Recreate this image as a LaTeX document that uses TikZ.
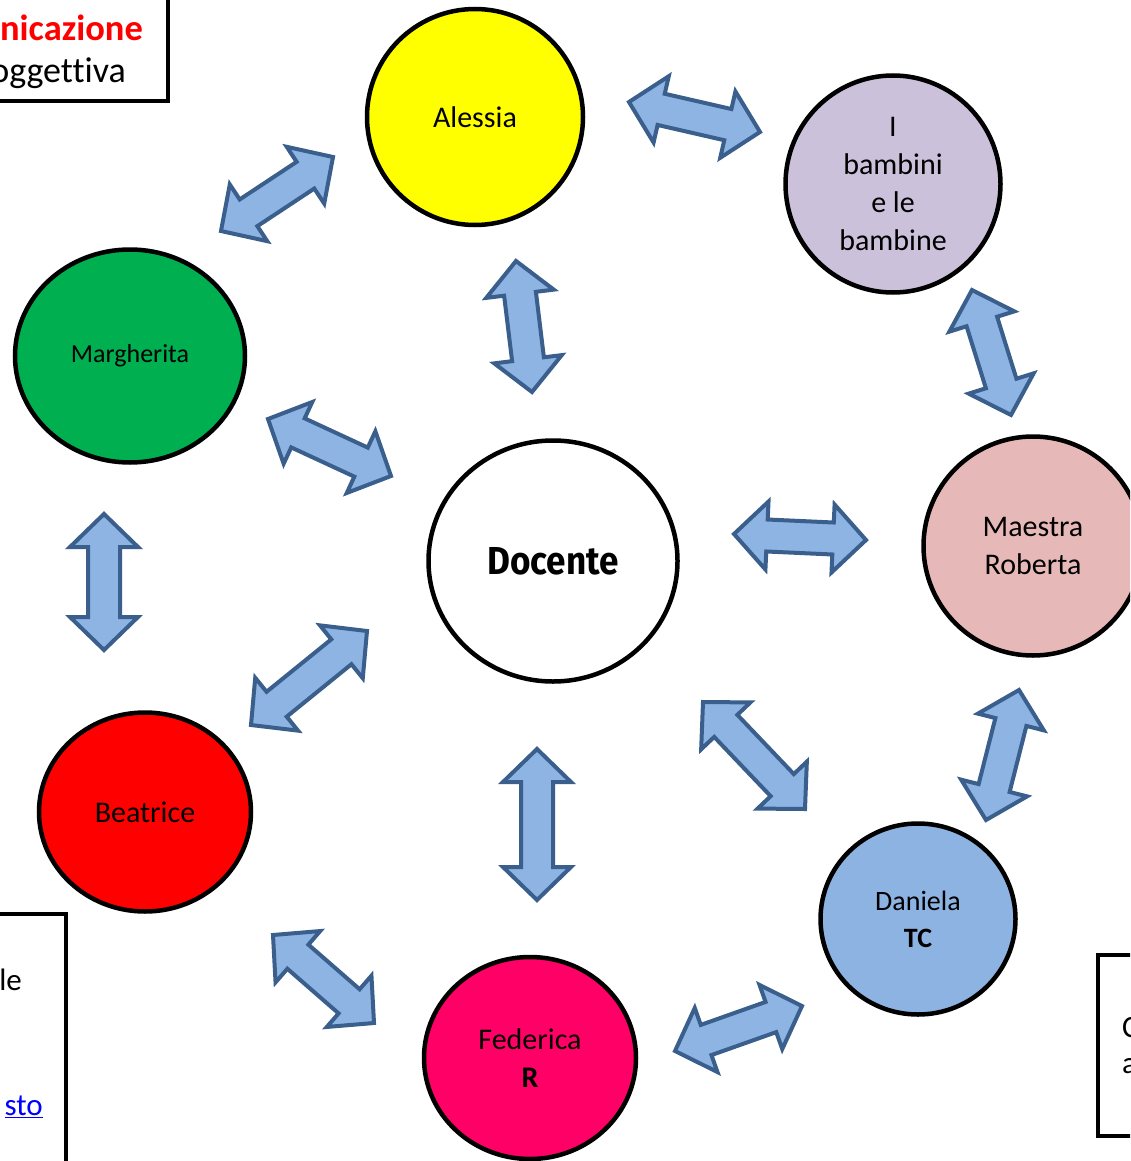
\documentclass[tikz,border=0pt]{standalone}
\usepackage{fontspec}
\setmainfont[Ligatures=NoCommon]{Carlito}
\newfontfamily\dinfont{Fira Sans}
\usetikzlibrary{shapes.geometric,calc}
\definecolor{alyellow}{HTML}{FFFF00}
\definecolor{lavender}{HTML}{CCC1DA}
\definecolor{mgreen}{HTML}{00B050}
\definecolor{rpink}{HTML}{E6B9B8}
\definecolor{bred}{HTML}{FF0000}
\definecolor{dblue}{HTML}{8DB3E2}
\definecolor{fmag}{HTML}{FF0066}
\definecolor{arrowfill}{HTML}{8EB4E3}
\definecolor{arrowline}{HTML}{3A5F8C}
\definecolor{linkblue}{HTML}{0000FF}
\tikzset{
  circ/.style={ellipse, draw=black, line width=4.5pt, inner sep=0pt, align=center,
    font=\fontsize{30}{38}\selectfont},
  arr/.style={draw=arrowline, fill=arrowfill, line width=4pt, line join=miter},
  frame/.style={draw=black, line width=4.5pt},
  boxtext/.style={inner sep=0pt, font=\fontsize{36}{40}\selectfont},
}
\newcommand\dbarrow[2]{%
  \coordinate (pA) at ($(#1)!33pt!(#2)$);
  \coordinate (pB) at ($(#2)!33pt!(#1)$);
  \draw[arr] (#1) -- ($(pA)!34pt!90:(#2)$) -- ($(pA)!16pt!90:(#2)$)
    -- ($(pB)!16pt!-90:(#1)$) -- ($(pB)!34pt!-90:(#1)$) -- (#2)
    -- ($(pB)!34pt!90:(#1)$) -- ($(pB)!16pt!90:(#1)$)
    -- ($(pA)!16pt!-90:(#2)$) -- ($(pA)!34pt!-90:(#2)$) -- cycle;
}
\begin{document}
\begin{tikzpicture}[x=1pt,y=-1pt]
\clip (0,0) rectangle (1130,1161);
\fill[white] (0,0) rectangle (1130,1161);

% side boxes
\draw[frame] (-20,-20) rectangle (168,101);
\node[boxtext, anchor=east, text=bred, font=\fontsize{36.5}{40}\selectfont\bfseries] (t1) at (143,28) {nicazione};
\node[boxtext, anchor=east] (t2) at (126,73) {oggettiva};

\draw[frame] (-20,914) rectangle (66,1190);
\node[boxtext, anchor=east, font=\fontsize{31}{38}\selectfont] (t3) at (22,980) {le};
\node[boxtext, anchor=east, text=linkblue, font=\fontsize{31}{38}\selectfont] (t4) at (43,1107) {\underline{sto}};

\draw[frame] (1098,955) rectangle (1150,1136);
\node[boxtext, anchor=west, font=\fontsize{31}{38}\selectfont] (t5) at (1122,1028) {C};
\node[boxtext, anchor=west, font=\fontsize{31}{38}\selectfont] (t6) at (1122,1066) {a};

% circles
\node[circ, fill=alyellow, minimum width=216pt, minimum height=216pt] (alessia) at (475,117) {\raisebox{-2pt}{Alessia}};
\node[circ, fill=lavender, minimum width=215pt, minimum height=217pt] (bambini) at (893,184) {I\\bambini\\e le\\bambine};
\node[circ, fill=mgreen, minimum width=230pt, minimum height=213pt, font=\fontsize{26}{30}\selectfont] (margherita) at (130,356) {\raisebox{-2pt}{Margherita}};
\node[circ, fill=white, minimum width=249pt, minimum height=241pt] (docente) at (553,561)
  {\raisebox{-3pt}{\scalebox{0.9}[1]{\dinfont\bfseries\fontsize{39}{44}\selectfont Docente}}};
\node[circ, fill=rpink, minimum width=219pt, minimum height=219pt] (roberta) at (1033,546) {Maestra\\Roberta};
\node[circ, fill=bred, minimum width=212pt, minimum height=199pt] (beatrice) at (145,812) {\raisebox{-2pt}{Beatrice}};
\node[circ, fill=dblue, minimum width=195pt, minimum height=191pt, font=\fontsize{28}{37}\selectfont] (daniela) at (918,919) {Daniela\\\textbf{TC}};
\node[circ, fill=fmag, minimum width=212pt, minimum height=202pt] (federica) at (530,1058) {Federica\\\textbf{R}};

% arrow end points
\coordinate (a1s) at (221,231);  \coordinate (a1e) at (333,157);
\coordinate (a2s) at (629,102);  \coordinate (a2e) at (760,132);
\coordinate (a3s) at (516,261);  \coordinate (a3e) at (532,392);
\coordinate (a4s) at (972,290);  \coordinate (a4e) at (1011,415);
\coordinate (a5s) at (268,419);  \coordinate (a5e) at (391,476);
\coordinate (a6s) at (734,534);  \coordinate (a6e) at (866,540);
\coordinate (a7s) at (104,514);  \coordinate (a7e) at (104,650);
\coordinate (a8s) at (251,725);  \coordinate (a8e) at (367,631);
\coordinate (a9s) at (703,702);  \coordinate (a9e) at (805,809);
\coordinate (a10s) at (1019,690); \coordinate (a10e) at (986,820);
\coordinate (a11s) at (537,749); \coordinate (a11e) at (537,900);
\coordinate (a12s) at (273,935); \coordinate (a12e) at (374,1023);
\coordinate (a13s) at (675,1051); \coordinate (a13e) at (802,1006);

\dbarrow{a1s}{a1e}
\dbarrow{a2s}{a2e}
\dbarrow{a3s}{a3e}
\dbarrow{a4s}{a4e}
\dbarrow{a5s}{a5e}
\dbarrow{a6s}{a6e}
\dbarrow{a7s}{a7e}
\dbarrow{a8s}{a8e}
\dbarrow{a9s}{a9e}
\dbarrow{a10s}{a10e}
\dbarrow{a11s}{a11e}
\dbarrow{a12s}{a12e}
\dbarrow{a13s}{a13e}
\end{tikzpicture}
\end{document}
